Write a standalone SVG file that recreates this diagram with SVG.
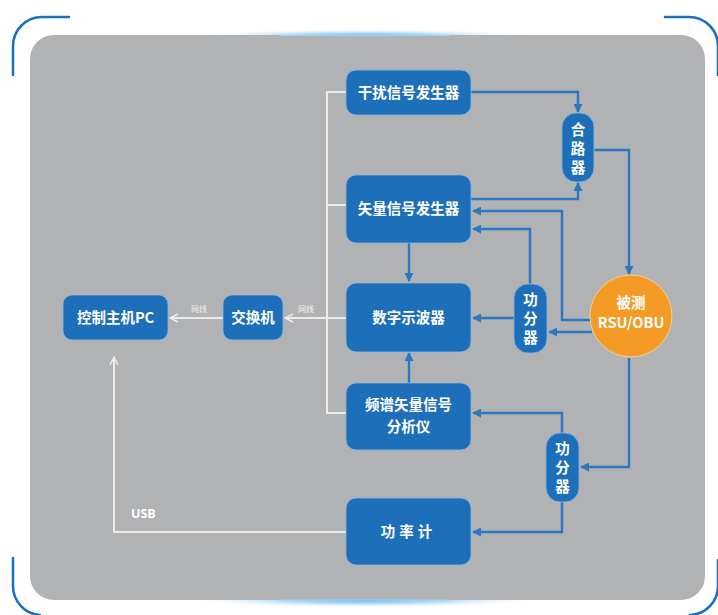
<svg xmlns="http://www.w3.org/2000/svg" width="718" height="615" viewBox="0 0 718 615">
<defs>
<style>
.box{fill:#1e6fb9;stroke:#8db6dd;stroke-width:0.8}
.t{fill:#ffffff;font-family:"Noto Sans CJK SC","Noto Sans",sans-serif;font-weight:bold;font-size:14.5px;text-anchor:middle}
.lbl{fill:#f2f2f2;font-family:"Noto Sans CJK SC","Noto Sans",sans-serif;font-size:8px;text-anchor:middle}
.blue{fill:none;stroke:#2b78c2;stroke-width:2.4}
.white{fill:none;stroke:#ececec;stroke-width:2}
.bracket{fill:none;stroke:#1a6fbf;stroke-width:2.5;stroke-linecap:round}
</style>
<marker id="ab" viewBox="0 0 10 10" refX="9" refY="5" markerWidth="9" markerHeight="9" markerUnits="userSpaceOnUse" orient="auto">
<path d="M0,0 L10,5 L0,10 Z" fill="#2b78c2"/>
</marker>
<marker id="aw" viewBox="0 0 10 10" refX="9" refY="5" markerWidth="10" markerHeight="10" markerUnits="userSpaceOnUse" orient="auto">
<path d="M1,1 L9,5 L1,9" fill="none" stroke="#ececec" stroke-width="1.5"/>
</marker>
<radialGradient id="glow" cx="0.5" cy="0.5" r="0.5">
<stop offset="0" stop-color="#4fb0f5" stop-opacity="1"/>
<stop offset="0.5" stop-color="#7cc3f3" stop-opacity="0.5"/>
<stop offset="1" stop-color="#ffffff" stop-opacity="0"/>
</radialGradient>
</defs>
<rect x="0" y="0" width="718" height="615" fill="#ffffff"/>
<!-- corner brackets -->
<path class="bracket" d="M13,75 V46 A29,29 0 0 1 42,17 H69"/>
<path class="bracket" d="M665,17 H689 A29,29 0 0 1 718,46 V75"/>
<path class="bracket" d="M13,558 V586 A29,29 0 0 0 40,615"/>
<path class="bracket" d="M718,560 V586 A29,29 0 0 1 690,615"/>
<!-- glows -->
<ellipse cx="365" cy="36" rx="180" ry="7" fill="url(#glow)"/>
<ellipse cx="365" cy="600" rx="180" ry="8" fill="url(#glow)"/>
<!-- panel -->
<rect x="30" y="35" width="675" height="565" rx="24" fill="#b1b2b4"/>
<line x1="280" y1="35.5" x2="450" y2="35.5" stroke="#9fd3f7" stroke-width="1"/>
<line x1="280" y1="600" x2="450" y2="600" stroke="#9fd3f7" stroke-width="1"/>

<g id="connectors">
<!-- white bus lines -->
<path class="white" d="M346,92 H327 V413 H346"/>
<path class="white" d="M327,205 H346"/>
<path class="white" d="M346,318 H285" marker-end="url(#aw)"/>
<path class="white" d="M223,318 H170" marker-end="url(#aw)"/>
<path class="white" d="M346,532 H114 V357" marker-end="url(#aw)"/>
<text class="lbl" x="306" y="312">网线</text>
<text class="lbl" x="199" y="312">网线</text>
<text x="131" y="518" fill="#ffffff" font-family="'Noto Sans','Open Sans',sans-serif" font-weight="bold" font-size="12.5">USB</text>
<!-- blue lines -->
<path class="blue" d="M471,92 H578 V112" marker-end="url(#ab)"/>
<path class="blue" d="M471,199 H578 V183" marker-end="url(#ab)"/>
<path class="blue" d="M594,150 H629 V274" marker-end="url(#ab)"/>
<path class="blue" d="M592,320 H562 V211 H473" marker-end="url(#ab)"/>
<path class="blue" d="M530,284 V229 H473" marker-end="url(#ab)"/>
<path class="blue" d="M514,318 H473" marker-end="url(#ab)"/>
<path class="blue" d="M592,332 H549" marker-end="url(#ab)"/>
<path class="blue" d="M409,243 V281" marker-end="url(#ab)"/>
<path class="blue" d="M409,383 V353" marker-end="url(#ab)"/>
<path class="blue" d="M629,358 V467 H581" marker-end="url(#ab)"/>
<path class="blue" d="M562,433 V413 H473" marker-end="url(#ab)"/>
<path class="blue" d="M562,502 V532 H473" marker-end="url(#ab)"/>
</g>

<g id="n-ganrao">
<rect class="box" x="346" y="70" width="125" height="45" rx="10"/>
<text class="t" x="408.5" y="98">干扰信号发生器</text>
</g>
<g id="n-shiliang">
<rect class="box" x="346" y="175" width="125" height="68" rx="10"/>
<text class="t" x="408.5" y="214">矢量信号发生器</text>
</g>
<g id="n-shiboqi">
<rect class="box" x="346" y="283" width="125" height="69" rx="10"/>
<text class="t" x="408.5" y="323">数字示波器</text>
</g>
<g id="n-pinpu">
<rect class="box" x="346" y="383" width="125" height="67" rx="10"/>
<text class="t" x="408.5" y="410">频谱矢量信号</text>
<text class="t" x="408.5" y="432">分析仪</text>
</g>
<g id="n-gonglvji">
<rect class="box" x="346" y="498" width="125" height="67" rx="10"/>
<text class="t" x="408.5" y="537" letter-spacing="4">功率计</text>
</g>
<g id="n-jiaohuanji">
<rect class="box" x="223" y="295" width="60" height="45" rx="9"/>
<text class="t" x="253" y="323">交换机</text>
</g>
<g id="n-pc">
<rect class="box" x="63" y="295" width="105" height="45" rx="9"/>
<text class="t" x="115.5" y="323">控制主机PC</text>
</g>
<g id="n-helu">
<rect class="box" x="562" y="113" width="32" height="69" rx="14"/>
<text class="t" x="578" y="135">合</text>
<text class="t" x="578" y="154">路</text>
<text class="t" x="578" y="173">器</text>
</g>
<g id="n-gongfen1">
<rect class="box" x="514" y="284" width="33" height="69" rx="14"/>
<text class="t" x="530.5" y="305">功</text>
<text class="t" x="530.5" y="324">分</text>
<text class="t" x="530.5" y="343">器</text>
</g>
<g id="n-gongfen2">
<rect class="box" x="546" y="433" width="33" height="69" rx="14"/>
<text class="t" x="562.5" y="454">功</text>
<text class="t" x="562.5" y="473">分</text>
<text class="t" x="562.5" y="492">器</text>
</g>
<g id="n-rsu">
<circle cx="631" cy="316" r="41" fill="#f39b25" stroke="#f7d9a8" stroke-width="0.8"/>
<text class="t" x="631" y="308">被测</text>
<text class="t" x="631" y="328">RSU/OBU</text>
</g>
</svg>
